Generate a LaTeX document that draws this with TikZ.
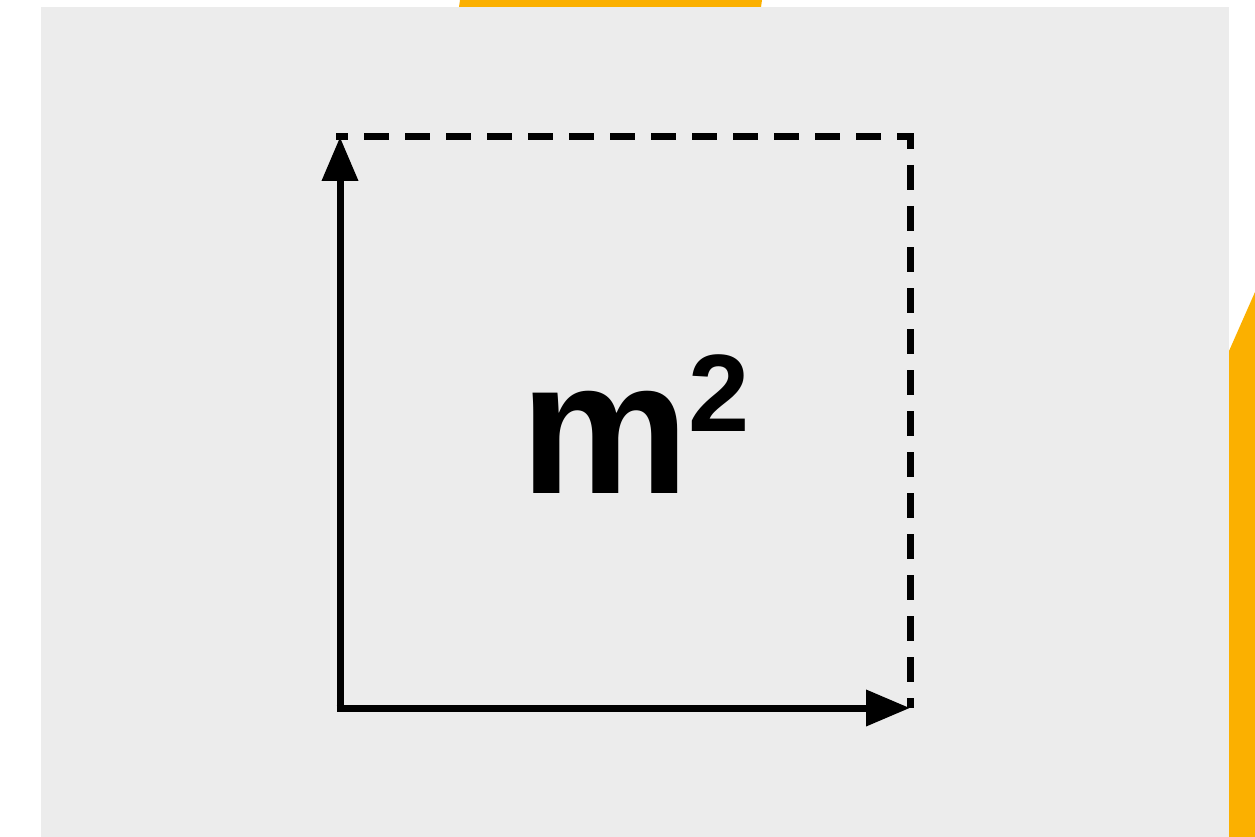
\documentclass[tikz,border=0pt]{standalone}
\usepackage{fontspec}
\setmainfont{Liberation Sans}
\usetikzlibrary{arrows.meta}
\definecolor{panel}{HTML}{ECECEC}
\definecolor{accent}{HTML}{FBB000}
\tikzset{
  axisline/.style={line width=7pt, -{Triangle[length=44pt,width=35pt]}},
  dashline/.style={line width=7pt, line cap=butt, dash pattern=on 25pt off 16pt, dash phase=13pt},
  bigtext/.style={inner sep=0pt, anchor=base, font=\bfseries\fontsize{190}{190}\selectfont},
  suptext/.style={inner sep=0pt, anchor=base, font=\bfseries\fontsize{110}{110}\selectfont}
}
\begin{document}
\begin{tikzpicture}[x=1pt,y=-1pt]
\useasboundingbox (0,0) rectangle (1255,837);
\fill[white] (0,0) rectangle (1255,837);
\fill[panel] (41,7) rectangle (1229,837);
\fill[accent] (460,0) -- (762,0) -- (761,7) -- (459,7) -- cycle;
\fill[accent] (1255,292) -- (1229,351) -- (1229,837) -- (1255,837) -- cycle;
\coordinate (O) at (340,708);
\coordinate (T) at (340,137);
\coordinate (R) at (910,708);
\coordinate (TR) at (910,137);
\draw[dashline] (336,137) -- (TR) -- (R);
\draw[axisline] (O) -- (T);
\draw[axisline] (336.5,708) -- (R);
\node[bigtext] (m) at (604.5,493) {m};
\node[suptext] (two) at (719,431) {2};
\end{tikzpicture}
\end{document}
